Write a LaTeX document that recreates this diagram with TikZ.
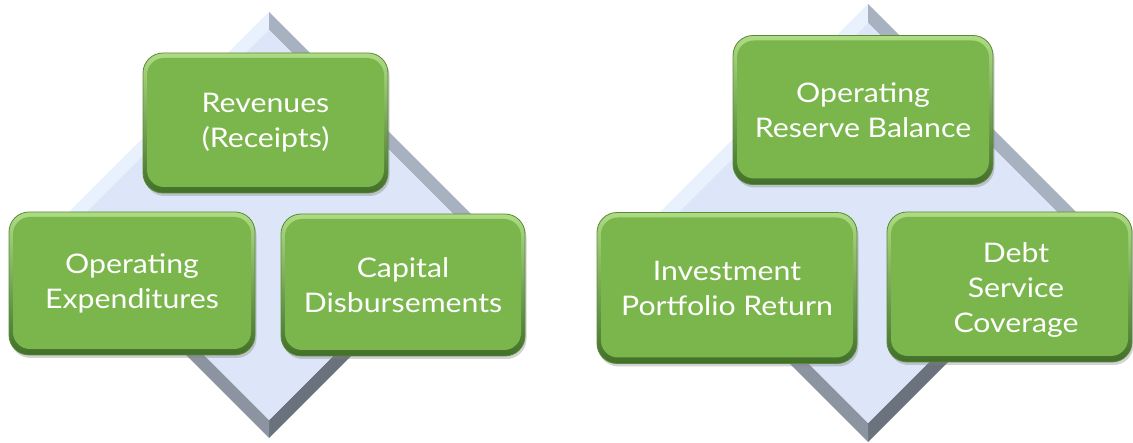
\documentclass[tikz,border=0pt]{standalone}
\usepackage{fontspec}
\setmainfont{Lato}
\newfontfamily\boxfont[FakeStretch=1.12]{Lato}
\usetikzlibrary{shadows}
\definecolor{boxgreen}{HTML}{7AB64C}
\definecolor{boxlight}{HTML}{AEDC84}
\definecolor{boxdark}{HTML}{42702A}
\definecolor{boxline}{HTML}{5A8A38}
\definecolor{face}{HTML}{DCE6F8}
\definecolor{bevtl}{HTML}{E8F1FD}
\definecolor{bevtr}{HTML}{A8B1C0}
\definecolor{bevbr}{HTML}{6A727D}
\definecolor{bevbl}{HTML}{8C94A1}
\begin{document}
\begin{tikzpicture}[x=1pt,y=-1pt,
  gbox/.style={rounded corners=20pt, draw=boxline, line width=0.8pt,
    top color=boxlight, bottom color=boxdark,
    drop shadow={shadow xshift=1.5pt, shadow yshift=-3pt, opacity=0.35},
    path picture={\fill[boxgreen, rounded corners=17pt]
      ([shift={(4pt,-5pt)}]path picture bounding box.north west) rectangle
      ([shift={(-4pt,6pt)}]path picture bounding box.south east);},
    text=white, align=center, font=\boxfont\fontsize{27}{35}\selectfont, inner sep=0pt},
  glabel/.style={text=white, align=center, font=\boxfont\fontsize{27}{35}\selectfont, inner sep=0pt}]
\useasboundingbox (0,0) rectangle (1133,443);
% ---------- left diamond ----------
\coordinate (aT) at (269,12);  \coordinate (aR) at (482,225);
\coordinate (aB) at (269,438); \coordinate (aL) at (56,225);
\coordinate (at) at (269,30);  \coordinate (ar) at (464,225);
\coordinate (ab) at (269,420); \coordinate (al) at (74,225);
\fill[bevtl] (aL) -- (aT) -- (at) -- (al) -- cycle;
\fill[bevtr] (aT) -- (aR) -- (ar) -- (at) -- cycle;
\fill[bevbr] (aR) -- (aB) -- (ab) -- (ar) -- cycle;
\fill[bevbl] (aB) -- (aL) -- (al) -- (ab) -- cycle;
\fill[face] (at) -- (ar) -- (ab) -- (al) -- cycle;
% ---------- right diamond ----------
\coordinate (bT) at (868,4);   \coordinate (bR) at (1087,223);
\coordinate (bB) at (868,442); \coordinate (bL) at (649,223);
\coordinate (bt) at (868,23);  \coordinate (br) at (1068,223);
\coordinate (bb) at (868,423); \coordinate (bl) at (668,223);
\fill[bevtl] (bL) -- (bT) -- (bt) -- (bl) -- cycle;
\fill[bevtr] (bT) -- (bR) -- (br) -- (bt) -- cycle;
\fill[bevbr] (bR) -- (bB) -- (bb) -- (br) -- cycle;
\fill[bevbl] (bB) -- (bL) -- (bl) -- (bb) -- cycle;
\fill[face] (bt) -- (br) -- (bb) -- (bl) -- cycle;
% ---------- boxes ----------
\node[gbox, minimum width=245pt, minimum height=140pt] (rev) at (265.5,123) {Revenues\\(Receipts)};
\node[gbox, minimum width=246pt, minimum height=143pt] (opex) at (132,283.5) {Operating\\Expenditures};
\node[gbox, minimum width=244pt, minimum height=142pt] (cap) at (403,285) {Capital\\Disbursements};
\node[gbox, minimum width=260pt, minimum height=149pt] (orb) at (863,110) {Operating\\Reserve Balance};
\node[gbox, minimum width=260pt, minimum height=151pt] (inv) at (727,288) {Investment\\Portfolio Return};
\node[gbox, minimum width=245pt, minimum height=150pt] (debt) at (1009.5,287) {};
\node[glabel] (debtlbl) at (1016,290) {Debt\\Service\\Coverage};
\end{tikzpicture}
\end{document}
